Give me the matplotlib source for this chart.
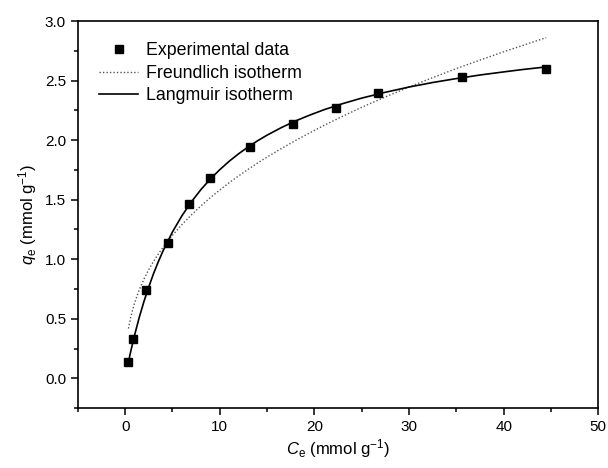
import matplotlib
matplotlib.use("Agg")
import matplotlib.pyplot as plt
from matplotlib.ticker import MultipleLocator

plt.rcParams["font.family"] = ["Liberation Sans", "DejaVu Sans"]
plt.rcParams["mathtext.fontset"] = "custom"
plt.rcParams["mathtext.rm"] = "Liberation Sans"
plt.rcParams["mathtext.it"] = "Liberation Sans:italic"

# Experimental points
ce_exp = [0.35, 0.88, 2.25, 4.48, 6.7, 8.92, 13.2, 17.7, 22.3, 26.7, 35.6, 44.5]
qe_exp = [0.14, 0.333, 0.74, 1.137, 1.46, 1.68, 1.94, 2.134, 2.266, 2.40, 2.527, 2.597]

# Fitted isotherm curves
ce_fit = [0.35, 0.6, 1, 1.5, 2, 2.5, 3, 3.5, 4, 5, 6, 7, 8, 9, 10, 11, 12, 13, 14,
          15, 16.5, 18, 19.5, 21, 23, 25, 27.5, 30, 32.5, 35, 37.5, 40, 42, 44.5]
qe_langmuir = [0.138, 0.229, 0.363, 0.514, 0.648, 0.768, 0.879, 0.978, 1.069, 1.229,
               1.365, 1.482, 1.584, 1.673, 1.752, 1.823, 1.886, 1.943, 1.995,
               2.042, 2.105, 2.161, 2.210, 2.255, 2.307, 2.353, 2.402, 2.446, 2.484,
               2.517, 2.547, 2.573, 2.593, 2.615]
qe_freundlich = [0.418, 0.518, 0.634, 0.745, 0.835, 0.914, 0.981, 1.043, 1.099, 1.201,
                 1.291, 1.372, 1.447, 1.517, 1.582, 1.643, 1.700, 1.755, 1.808,
                 1.858, 1.929, 1.997, 2.061, 2.123, 2.201, 2.276, 2.363, 2.446, 2.525,
                 2.601, 2.672, 2.742, 2.795, 2.861]

fig = plt.figure(figsize=(6.08, 4.68), dpi=100)
ax = fig.add_axes([0.128, 0.128, 0.856, 0.827])

ax.plot(ce_exp, qe_exp, "s", color="black", markersize=5.8, label="Experimental data", zorder=3)
ax.plot(ce_fit, qe_freundlich, linestyle=(0, (1, 1.5)), color="#555555", linewidth=1.0,
        label="Freundlich isotherm")
ax.plot(ce_fit, qe_langmuir, "-", color="black", linewidth=1.2, label="Langmuir isotherm")

ax.set_xlim(-5, 50)
ax.set_ylim(-0.25, 3.0)
ax.xaxis.set_major_locator(MultipleLocator(10))
ax.xaxis.set_minor_locator(MultipleLocator(5))
ax.yaxis.set_major_locator(MultipleLocator(0.5))
ax.yaxis.set_minor_locator(MultipleLocator(0.25))
ax.yaxis.set_major_formatter(plt.FormatStrFormatter("%.1f"))

ax.tick_params(which="both", direction="out", width=1.1, labelsize=11)
ax.tick_params(which="major", length=5)
ax.tick_params(which="minor", length=3)
for s in ax.spines.values():
    s.set_linewidth(1.2)

ax.set_xlabel(r"$C_\mathregular{e}$ (mmol g$^\mathregular{-1}$)", fontsize=12, labelpad=2)
ax.set_ylabel(r"$q_\mathregular{e}$ (mmol g$^\mathregular{-1}$)", fontsize=12, labelpad=4)

ax.legend(loc="upper left", frameon=False, fontsize=12.8, handlelength=2.2,
          handletextpad=0.45, labelspacing=0.3, borderaxespad=0.8)

fig.savefig("out.png", dpi=100)
